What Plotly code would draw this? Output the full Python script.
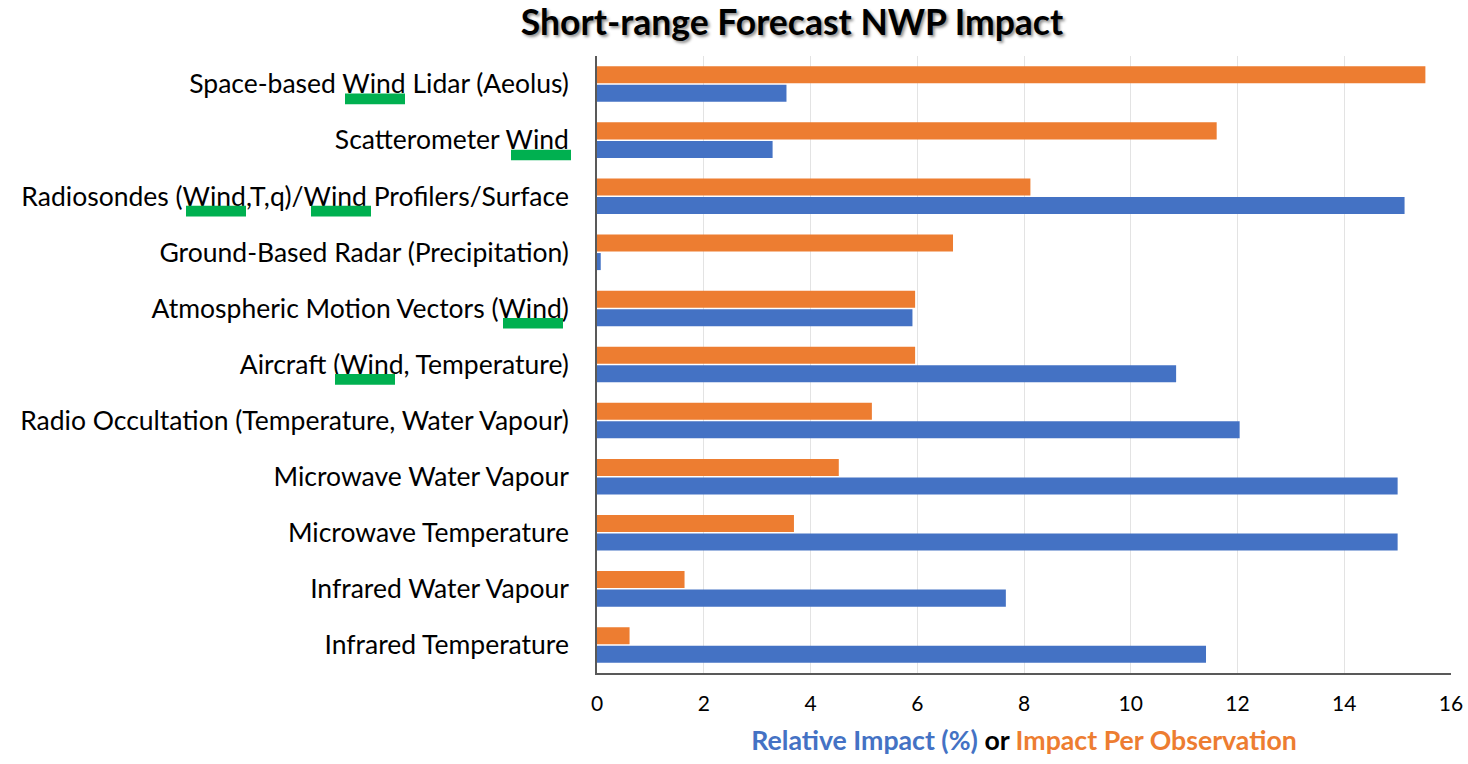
import plotly.graph_objects as go

categories = [
    "Space-based Wind Lidar (Aeolus)",
    "Scatterometer Wind",
    "Radiosondes (Wind,T,q)/Wind Profilers/Surface",
    "Ground-Based Radar (Precipitation)",
    "Atmospheric Motion Vectors (Wind)",
    "Aircraft (Wind, Temperature)",
    "Radio Occultation (Temperature, Water Vapour)",
    "Microwave Water Vapour",
    "Microwave Temperature",
    "Infrared Water Vapour",
    "Infrared Temperature",
]
impact_per_obs = [15.52, 11.61, 8.12, 6.67, 5.96, 5.96, 5.15, 4.53, 3.69, 1.64, 0.61]
relative_impact = [3.55, 3.29, 15.13, 0.07, 5.91, 10.85, 12.04, 15.0, 15.0, 7.66, 11.41]
x_ticks = [0, 2, 4, 6, 8, 10, 12, 14, 16]

# underline decorations for the word "Wind": (category index, left px, right px) relative to figure
wind_marks = [(0, 345, 405), (1, 511, 571), (2, 186, 246), (2, 311, 371), (4, 503, 563), (5, 335, 395)]

W, H = 1468, 764
ML, MR, MT, MB = 597, 17, 56, 91
PW = W - ML - MR

ORANGE = "#ED7D31"
BLUE = "#4472C4"
GREEN = "#00B050"

fig = go.Figure()
fig.add_trace(go.Bar(y=categories, x=impact_per_obs, orientation="h", name="Impact Per Observation",
                     marker=dict(color=ORANGE, line=dict(width=0))))
fig.add_trace(go.Bar(y=categories, x=relative_impact, orientation="h", name="Relative Impact (%)",
                     marker=dict(color=BLUE, line=dict(width=0))))

for idx, x0, x1 in wind_marks:
    fig.add_shape(type="rect", xref="paper", yref="y",
                  x0=(x0 - ML) / PW, x1=(x1 - ML) / PW,
                  y0=idx + 0.17, y1=idx + 0.36,
                  fillcolor=GREEN, line=dict(width=0), layer="above")

fig.update_layout(
    width=W, height=H, autosize=False,
    margin=dict(l=ML, r=MR, t=MT, b=MB, pad=0, autoexpand=False),
    paper_bgcolor="white", plot_bgcolor="white",
    showlegend=False,
    barmode="group", bargap=0.34, bargroupgap=0.08,
    font=dict(family="Lato, sans-serif", color="#000000"),
    title=dict(text="<b>Short-range Forecast NWP Impact</b>",
               x=792 / W, xanchor="center", xref="container",
               y=1 - 23 / H, yanchor="middle", yref="container", automargin=False,
               font=dict(size=35.5, color="#000000", family="Lato, sans-serif",
                         shadow="2px 2px 3px rgba(0,0,0,0.45)")),
    xaxis=dict(range=[0, 16], tickvals=x_ticks, showgrid=True, gridcolor="#E3E3E3", gridwidth=1,
               zeroline=False, showline=True, linecolor="#595959", linewidth=1.5, automargin=False,
               tickfont=dict(size=21, color="#000000"), ticks="", ticklabelstandoff=11,
               ticklabeloverflow="allow",
               title=dict(text="<b><span style='color:%s'>Relative Impact (%%)</span> or "
                               "<span style='color:%s'>Impact Per Observation</span></b>" % (BLUE, ORANGE),
                          font=dict(size=26.7, color="#000000"), standoff=17)),
    yaxis=dict(autorange="reversed", showgrid=False, zeroline=False, showline=True, automargin=False,
               linecolor="#595959", linewidth=1.5, ticks="", ticklabelstandoff=21,
               tickfont=dict(size=26.5, color="#000000")),
)

fig.write_html("out.html", config={"displayModeBar": False, "responsive": False},
               post_script="document.body.style.margin='0';document.body.style.overflow='hidden';")
